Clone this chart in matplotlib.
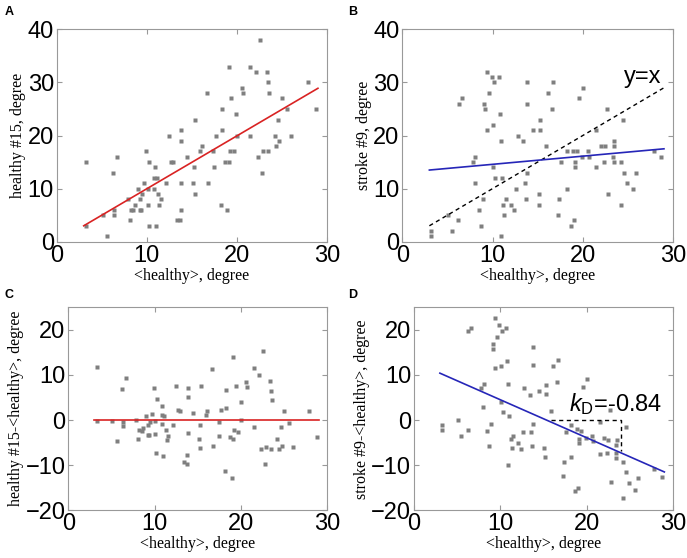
import numpy as np
import matplotlib
matplotlib.use('Agg')
import matplotlib.pyplot as plt

plt.rcParams['font.family'] = 'Liberation Sans'
plt.rcParams['mathtext.fontset'] = 'custom'
plt.rcParams['mathtext.rm'] = 'Liberation Sans'
plt.rcParams['mathtext.it'] = 'Liberation Sans:italic'

# panel A / C : mean healthy degree vs healthy #15
xa = [3.3, 3.3, 5.1, 5.6, 6.2, 6.35, 6.35, 6.65, 7.9, 8.1, 8.2, 8.5, 8.7, 9.0, 9.2,
      9.25, 9.4, 9.5, 9.7, 9.95, 10.1, 10.1, 10.2, 10.3, 10.8, 10.8, 10.9, 11.0, 11.1,
      11.3, 11.4, 11.6, 12.1, 12.5, 12.7, 12.9, 13.4, 13.7, 13.8, 13.85, 13.85, 13.85,
      14.5, 15.1, 15.2, 15.3, 15.4, 15.9, 16.1, 16.7, 16.8, 17.4, 17.5, 17.7, 18.2,
      18.3, 18.3, 18.7, 18.95, 19.1, 19.1, 19.2, 19.4, 19.7, 19.95, 20.0, 20.6, 20.7,
      21.5, 21.5, 22.1, 22.35, 22.6, 22.75, 22.9, 23.4, 23.5, 23.6, 23.5, 24.4, 24.2,
      24.6, 24.7, 25.0, 25.6, 26.0, 27.9, 28.8]
ya = [15, 3, 5, 1, 13, 6, 5, 16, 8, 4, 6, 6, 7, 10, 8,
      6, 6, 9, 11, 17, 10, 7, 3, 15, 10, 12, 14, 3, 12,
      9, 7, 8, 11, 20, 15, 15, 4, 4, 6, 21, 19, 11,
      16, 11, 14, 9, 23, 17, 18, 28, 11, 17, 14, 20, 7,
      25, 21, 15, 6, 15, 33, 17, 27, 17, 24, 20, 29, 28,
      20, 33, 32, 16, 38, 13, 17, 32, 30, 28, 17, 18, 20,
      23, 19, 27, 25, 20, 30, 25]
yc = [11.7, -0.3, -0.1, -4.6, 6.8, -0.35, -1.35, 9.35, 0.1, -4.1, -2.2, -2.5, -1.7, 1.0, -1.2,
      -3.25, -3.4, -0.5, 1.3, 7.05, -0.1, -3.1, -7.2, 4.7, -0.8, 1.2, 3.1, -8.0, 0.9,
      -2.3, -4.4, -3.6, -1.1, 7.5, 2.3, 2.1, -9.4, -9.7, -7.8, 7.15, 5.15, -2.85,
      1.5, -4.1, -1.2, -6.3, 7.6, 1.1, 1.9, 11.3, -5.8, -0.4, -3.5, 2.3, -11.2,
      6.7, 2.7, -3.7, -12.95, -4.1, 13.9, -2.2, 7.6, -2.7, 4.05, 0.0, 8.4, 7.3,
      -1.5, 11.5, 9.9, -6.35, 15.4, -9.75, -5.9, 8.6, 6.5, 4.4, -6.5, -6.4, -4.2,
      -1.6, -5.7, 2.0, -0.6, -6.0, 2.1, -3.8]

# panel B / D : mean healthy degree vs stroke #9
xb = [3.2, 3.2, 5.05, 5.5, 6.2, 6.3, 6.6, 7.8, 8.05, 8.1, 8.5, 8.7, 8.9, 9.1, 9.2,
      9.35, 9.4, 9.6, 9.9, 10.05, 10.1, 10.2, 10.3, 10.7, 10.8, 10.9, 10.9, 11.0, 11.2,
      11.3, 11.5, 12.0, 12.4, 12.6, 12.8, 13.4, 13.6, 13.8, 13.8, 13.7, 13.8, 14.5,
      15.1, 15.15, 15.3, 15.3, 15.9, 16.1, 16.6, 16.7, 17.3, 17.4, 17.6, 18.2, 18.2,
      18.7, 18.9, 19.0, 19.1, 19.1, 19.4, 19.6, 19.9, 20.0, 20.6, 20.7, 21.5, 21.5,
      22.05, 22.5, 22.3, 22.7, 22.8, 23.35, 23.45, 23.5, 23.45, 24.2, 24.2, 24.5,
      24.6, 24.9, 25.55, 25.9, 27.85, 28.7]
yb = [2, 1, 5, 2, 4, 26, 27, 15, 11, 16, 6, 3, 8, 26, 25,
      21, 32, 28, 31, 22, 14, 30, 12, 31, 24, 1, 19, 12, 7,
      5, 8, 7, 6, 10, 20, 19, 11, 30, 26, 8, 13, 21,
      9, 7, 23, 21, 18, 28, 25, 30, 5, 8, 15, 10, 17,
      3, 17, 4, 14, 15, 17, 27, 16, 29, 17, 16, 21, 14,
      18, 18, 15, 25, 9, 16, 18, 19, 15, 15, 7, 23,
      13, 11, 10, 13, 17, 16]
yd = [-1.2, -2.2, -0.05, -3.5, -2.2, 19.7, 20.4, 7.2, 2.95, 7.9, -2.5, -5.7, -0.9, 16.9, 15.8,
      11.65, 22.6, 18.4, 21.1, 11.95, 3.9, 19.8, 1.7, 20.3, 13.2, -9.9, 8.1, 1.0, -4.2,
      -6.3, -3.5, -5.0, -6.4, -2.6, 7.2, 5.6, -2.6, 16.2, 12.2, -5.7, -0.8, 6.5,
      -6.1, -8.15, 7.7, 5.7, 2.1, 11.9, 8.4, 13.3, -12.3, -9.4, -2.6, -8.2, -1.2,
      -15.7, -1.9, -15.0, -5.1, -4.1, -2.4, 7.4, -3.9, 9.0, -3.6, -4.7, -0.5, -7.5,
      -4.05, -4.5, -7.3, 2.3, -13.8, -7.35, -5.45, -4.5, -8.45, -9.2, -17.2, -1.5,
      -11.6, -13.9, -15.55, -12.9, -10.85, -12.7]

# fitted lines (end points)
fit_a = ([3.0, 29.0], [3.0, 28.9])
fit_b = ([3.0, 29.0], [13.5, 17.5])
diag_b = ([3.0, 29.0], [3.0, 29.0])
fit_c = ([3.0, 29.0], [0.0, 0.0])
fit_d = ([3.0, 29.0], [10.4, -11.5])
slope_d = ([15.9, 24.0, 24.0], [0.0, 0.0, -6.9])

red = '#d92323'
blue = '#2626b8'
grey = '#7f7f7f'

fig = plt.figure(figsize=(6.87, 5.58), dpi=100)
axA = fig.add_axes([0.0825, 0.5668, 0.3934, 0.3806])
axB = fig.add_axes([0.5856, 0.5668, 0.394, 0.3806])
axC = fig.add_axes([0.0994, 0.0855, 0.377, 0.3638])
axD = fig.add_axes([0.6026, 0.0855, 0.377, 0.3638])

serif = 'Liberation Serif'


def style(ax, ylab, ylim, yticks):
    ax.set_xlim(0, 30)
    ax.set_ylim(*ylim)
    ax.set_xticks([0, 10, 20, 30])
    ax.set_yticks(yticks)
    ax.set_yticklabels(['\u2212%d' % -t if t < 0 else '%d' % t for t in yticks])
    ax.tick_params(direction='in', top=True, right=True, length=3.5,
                   labelsize=17, color='#999999', pad=2)
    for s in ax.spines.values():
        s.set_color('#999999')
        s.set_linewidth(0.8)
    ax.set_xlabel('<healthy>, degree', family=serif, fontsize=11.5, labelpad=1)
    ax.set_ylabel(ylab, family=serif, fontsize=11.5, labelpad=1)


axA.plot(xa, ya, 's', ms=2.8, color=grey, mec='none')
axA.plot(*fit_a, color=red, lw=1.2)
style(axA, 'healthy #15, degree', (0, 40), [0, 10, 20, 30, 40])

axB.plot(xb, yb, 's', ms=2.8, color=grey, mec='none')
axB.plot(*diag_b, '--', color='black', lw=1.0, dashes=(3, 2.5))
axB.plot(*fit_b, color=blue, lw=1.2)
axB.text(28.7, 31, 'y=x', fontsize=17, ha='right', va='center')
style(axB, 'stroke #9, degree', (0, 40), [0, 10, 20, 30, 40])

axC.plot(xa, yc, 's', ms=2.8, color=grey, mec='none')
axC.plot(*fit_c, color=red, lw=1.2)
style(axC, 'healthy #15-<healthy>, degree', (-20, 25), [-20, -10, 0, 10, 20])

axD.plot(xb, yd, 's', ms=2.8, color=grey, mec='none')
axD.plot(*slope_d, '--', color='black', lw=1.0, dashes=(3, 2.5))
axD.plot(*fit_d, color=blue, lw=1.2)
axD.text(28.8, 3.6, r'$k_{\mathrm{D}}$=-0.84', fontsize=17, ha='right', va='center')
style(axD, 'stroke #9-<healthy>, degree', (-20, 25), [-20, -10, 0, 10, 20])

for lab, x, y in [('A', 0.007, 0.99), ('B', 0.507, 0.99),
                  ('C', 0.007, 0.482), ('D', 0.507, 0.482)]:
    fig.text(x, y, lab, fontsize=9, fontweight='bold', va='top')

fig.savefig('out.png', dpi=100)
